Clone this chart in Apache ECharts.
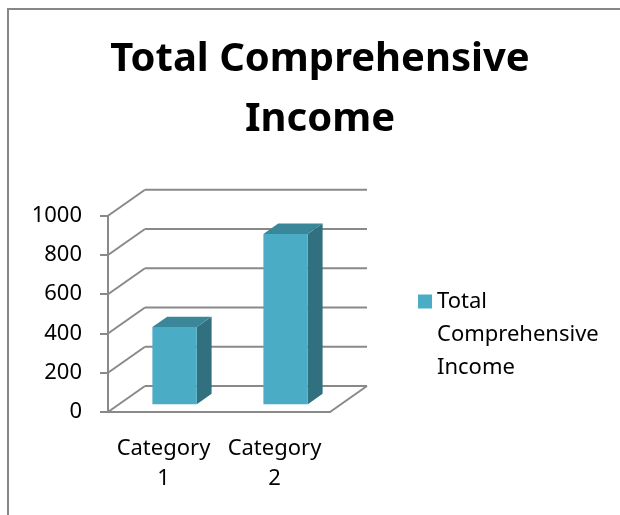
<!DOCTYPE html>
<html>
<head>
<meta charset="utf-8">
<script src="https://cdn.jsdelivr.net/npm/echarts@6/dist/echarts.min.js"></script>
<style>
  html, body { margin: 0; padding: 0; background: #fff; }
  #chart { width: 620px; height: 515px; }
</style>
</head>
<body>
<div id="chart"></div>
<script>
// data
var categories = ['Category 1', 'Category 2'];
var incomeValues = [393, 867];
var yTicks = [0, 200, 400, 600, 800, 1000];
var seriesName = 'Total Comprehensive Income';

// 3d look: depth offset of the back wall (pixels)
var DX = 37, DY = -26;
var BAR_FRONT = 0.3, BAR_DEPTH = 0.4;
var LINE_COLOR = '#898989';
var FONT = 'Noto Sans';

var chart = echarts.init(document.getElementById('chart'));

// back wall, side wall and floor drawn from the value axis ticks
function renderFrame(params, api) {
    var v = api.value(0);
    var cs = params.coordSys;
    var y = api.coord([0, v])[1];
    var x0 = cs.x, x1 = cs.x + cs.width;
    var st = { stroke: LINE_COLOR, lineWidth: 2, fill: null };
    var kids = [
        { type: 'line', shape: { x1: x0, y1: y, x2: x0 + DX, y2: y + DY }, style: st },
        { type: 'line', shape: { x1: x0 + DX, y1: y + DY, x2: x1 + DX, y2: y + DY }, style: st }
    ];
    if (v === 0) {
        kids.push({ type: 'line', shape: { x1: x1, y1: y, x2: x1 + DX, y2: y + DY }, style: st });
    }
    return { type: 'group', children: kids };
}

function renderBar(params, api) {
    var idx = api.value(0);
    var base = api.coord([idx, 0]);
    var top = api.coord([idx, api.value(1)]);
    var w = api.size([1, 0])[0] * 0.4;
    var fx = BAR_FRONT * DX, fy = BAR_FRONT * DY;
    var dx = BAR_DEPTH * DX, dy = BAR_DEPTH * DY;
    var xl = base[0] - w / 2 + fx, xr = base[0] + w / 2 + fx;
    var yt = top[1] + fy, yb = base[1] + fy;
    return {
        type: 'group',
        children: [
            { type: 'polygon', shape: { points: [[xr, yt], [xr + dx, yt + dy], [xr + dx, yb + dy], [xr, yb]] },
              style: { fill: '#31707f' } },
            { type: 'polygon', shape: { points: [[xl, yt], [xr, yt], [xr + dx, yt + dy], [xl + dx, yt + dy]] },
              style: { fill: '#3a8799' } },
            { type: 'rect', shape: { x: xl, y: yt, width: xr - xl, height: yb - yt },
              style: { fill: '#4bacc6' } }
        ]
    };
}

var option = {
    backgroundColor: '#fff',
    animation: false,
    title: {
        text: 'Total Comprehensive\nIncome',
        left: 320,
        textAlign: 'center',
        top: 30,
        padding: 0,
        textStyle: { fontFamily: FONT, fontSize: 40, fontWeight: 'bold', color: '#000', lineHeight: 60 }
    },
    legend: {
        data: [seriesName],
        left: 418,
        top: 285,
        padding: 0,
        itemWidth: 14,
        itemHeight: 99,
        icon: 'path://M0,0h1v0.1h-1z M0,9.5h14v14h-14z M0,99h1v0.1h-1z',
        formatter: function (name) { return name.replace(/ /g, '\n'); },
        textStyle: { fontFamily: FONT, fontSize: 22, lineHeight: 33, color: '#000' }
    },
    graphic: [{
        type: 'rect',
        shape: { x: 8, y: 9, width: 700, height: 700 },
        style: { fill: null, stroke: '#878787', lineWidth: 2 },
        silent: true
    }],
    grid: { left: 108, right: 290, top: 215.7, bottom: 103 },
    xAxis: {
        type: 'category',
        data: categories,
        axisLine: { lineStyle: { color: LINE_COLOR, width: 2 } },
        axisTick: { length: 8, lineStyle: { color: LINE_COLOR, width: 2 } },
        axisLabel: {
            interval: 0, hideOverlap: false,
            margin: 22, fontFamily: FONT, fontSize: 22, lineHeight: 30, color: '#000',
            formatter: function (v) { return v.replace(' ', '\n'); }
        }
    },
    yAxis: {
        type: 'value',
        min: 0, max: 1000, interval: 200,
        splitLine: { show: false },
        axisLine: { show: true, lineStyle: { color: LINE_COLOR, width: 2 } },
        axisTick: { show: true, length: 8, lineStyle: { color: LINE_COLOR, width: 2 } },
        axisLabel: {
            margin: 26, fontFamily: FONT, fontSize: 22, color: '#000',
            formatter: function (v) { return String(v); }
        }
    },
    series: [
        {
            type: 'custom',
            name: 'frame',
            renderItem: renderFrame,
            data: yTicks.map(function (t) { return [t]; }),
            encode: { y: 0 },
            silent: true,
            z: 1
        },
        {
            type: 'custom',
            name: seriesName,
            renderItem: renderBar,
            itemStyle: { color: '#4bacc6' },
            data: incomeValues.map(function (v, i) { return [i, v]; }),
            encode: { x: 0, y: 1 },
            z: 2
        }
    ]
};
chart.setOption(option);
</script>
</body>
</html>
